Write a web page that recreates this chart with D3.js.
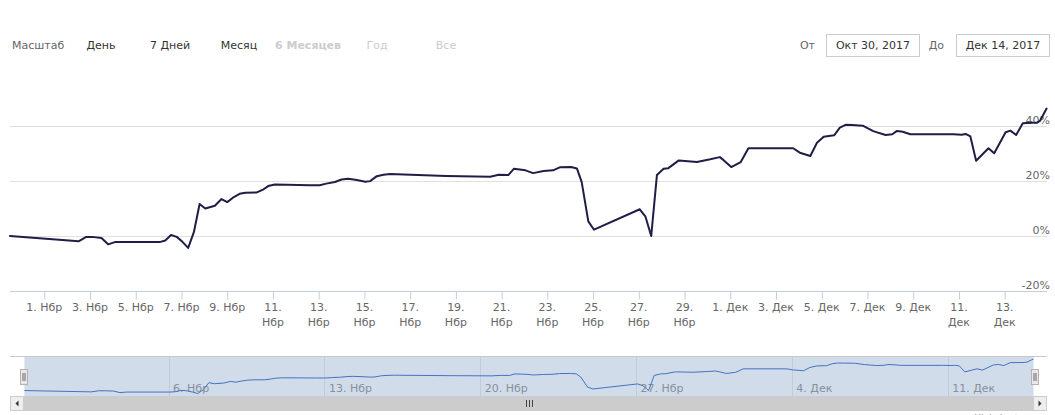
<!DOCTYPE html>
<html><head><meta charset="utf-8">
<script src="https://cdn.jsdelivr.net/npm/d3@7"></script>
<style>
body{margin:0;background:#fff;}
svg{display:block;font-family:"DejaVu Sans",Verdana,sans-serif;}
</style></head><body>
<svg id="c" width="1055" height="415"></svg>
<script>
// ---------- DATA ----------
const dates = [
"2017-10-30 12:00","2017-11-02 12:00","2017-11-02 20:00","2017-11-03 02:00","2017-11-03 12:00",
"2017-11-03 19:00","2017-11-04 02:00","2017-11-06 01:00","2017-11-06 07:00","2017-11-06 13:00",
"2017-11-06 19:00","2017-11-07 01:00","2017-11-07 07:00","2017-11-07 13:00","2017-11-07 19:00",
"2017-11-08 01:00","2017-11-08 11:00","2017-11-08 18:00","2017-11-09 00:00","2017-11-09 06:00",
"2017-11-09 13:00","2017-11-09 19:00","2017-11-10 07:00","2017-11-10 13:00","2017-11-10 19:00",
"2017-11-11 02:00","2017-11-12 15:00","2017-11-13 01:00","2017-11-13 08:00","2017-11-13 17:00",
"2017-11-14 00:00","2017-11-14 07:00","2017-11-14 16:00","2017-11-15 01:00","2017-11-15 06:00",
"2017-11-15 13:00","2017-11-15 20:00","2017-11-16 03:00","2017-11-16 10:00","2017-11-18 14:00",
"2017-11-20 12:00","2017-11-20 21:00","2017-11-21 07:00","2017-11-21 13:00","2017-11-22 01:00",
"2017-11-22 09:00","2017-11-22 20:00","2017-11-23 06:00","2017-11-23 13:00","2017-11-24 01:00",
"2017-11-24 07:00","2017-11-24 12:00","2017-11-24 19:00","2017-11-25 01:00","2017-11-27 01:00",
"2017-11-27 07:00","2017-11-27 13:00","2017-11-27 19:00","2017-11-28 02:00","2017-11-28 07:00",
"2017-11-28 18:00","2017-11-29 13:00","2017-11-30 03:00","2017-11-30 13:00","2017-11-30 17:00",
"2017-12-01 01:00","2017-12-01 11:00","2017-12-01 19:00","2017-12-03 18:00","2017-12-04 01:00",
"2017-12-04 12:00","2017-12-04 19:00","2017-12-05 02:00","2017-12-05 13:00","2017-12-05 19:00",
"2017-12-06 01:00","2017-12-06 08:00","2017-12-06 19:00","2017-12-07 06:00","2017-12-07 19:00",
"2017-12-08 02:00","2017-12-08 07:00","2017-12-08 13:00","2017-12-08 21:00","2017-12-10 18:00",
"2017-12-11 03:00","2017-12-11 07:00","2017-12-11 12:00","2017-12-11 18:00","2017-12-12 07:00",
"2017-12-12 13:00","2017-12-13 01:00","2017-12-13 06:00","2017-12-13 12:00","2017-12-13 19:00",
"2017-12-14 10:00","2017-12-14 13:00","2017-12-14 20:00"
];
const values = [
0.2,-1.7,-0.1,-0.1,-0.5,
-2.8,-2.0,-2.0,-1.4,0.6,
-0.1,-1.9,-4.1,1.6,11.8,
10.2,11.2,13.6,12.5,14.1,
15.5,15.9,16.0,16.9,18.3,
18.9,18.6,18.6,19.2,19.8,
20.7,21.0,20.5,19.9,20.1,
21.9,22.4,22.7,22.6,22.0,
21.7,22.4,22.3,24.6,24.0,
23.0,23.8,24.0,25.1,25.2,
24.7,19.8,5.5,2.5,9.9,
7.2,0.2,22.3,24.6,24.8,
27.6,27.0,28.0,28.8,27.7,
25.2,27.0,32.0,32.0,30.4,
29.2,34.0,36.2,36.7,39.5,
40.5,40.4,40.2,38.2,36.8,
37.1,38.3,38.0,37.1,37.1,
36.9,37.2,36.3,27.5,32.0,
30.2,37.8,38.4,36.8,41.1,
41.3,41.9,46.4
];
const yTicks = [-20, 0, 20, 40];
const monthNames = ["Янв","Фев","Мар","Апр","Май","Июн","Июл","Авг","Сен","Окт","Нбр","Дек"];
const zoomLabel = "Масштаб";
const rangeButtons = ["День","7 Дней","Месяц","6 Месяцев","Год","Все"];
const buttonStates = ["normal","normal","normal","selected","disabled","disabled"];
const fromLabel = "От", toLabel = "До";
const fromValue = "Окт 30, 2017", toValue = "Дек 14, 2017";
const credits = "Highcharts.com";

// ---------- SETUP ----------
const parse = d3.timeParse("%Y-%m-%d %H:%M");
const data = dates.map((d, i) => ({date: parse(d), value: values[i]}));
const svg = d3.select("#c");
const crisp = v => Math.floor(v) + 0.5;

const plot = {left: 10, right: 1046.6, bottom: 291.8, top: 126.2};
const x = d3.scaleTime().domain(d3.extent(data, d => d.date)).range([plot.left, plot.right]);
const y = d3.scaleLinear().domain([-20, 40]).range([plot.bottom, plot.top]);
const fmtTick = d => d3.timeFormat("%-d")(d) + ". " + monthNames[d.getMonth()];

// ---------- RANGE SELECTOR ----------
svg.append("text").attr("x", 12).attr("y", 49).attr("font-size", 11)
  .attr("fill", "#666").text(zoomLabel);
const btnColor = {normal: "#333", selected: "#cccccc", disabled: "#cccccc"};
svg.append("g").selectAll("text").data(rangeButtons).join("text")
  .attr("x", (d, i) => 101 + i * 69).attr("y", 49)
  .attr("text-anchor", "middle").attr("font-size", 11)
  .attr("font-weight", (d, i) => buttonStates[i] === "selected" ? "bold" : "normal")
  .attr("fill", (d, i) => btnColor[buttonStates[i]])
  .text(d => d);

// inputs
const inputs = [{label: fromLabel, value: fromValue, lx: 815, bx: 826},
                {label: toLabel, value: toValue, lx: 944, bx: 956}];
const ig = svg.append("g");
inputs.forEach(o => {
  ig.append("text").attr("x", o.lx).attr("y", 49).attr("text-anchor", "end")
    .attr("font-size", 11).attr("fill", "#666").text(o.label);
  ig.append("rect").attr("x", o.bx + 0.5).attr("y", 34.5).attr("width", 93).attr("height", 22)
    .attr("fill", "#fff").attr("stroke", "#cccccc");
  ig.append("text").attr("x", o.bx + 47).attr("y", 49).attr("text-anchor", "middle")
    .attr("font-size", 11).attr("fill", "#333").text(o.value);
});

// ---------- MAIN PLOT ----------
const grid = svg.append("g");
grid.selectAll("line").data(yTicks.filter(t => t !== -20)).join("line")
  .attr("x1", plot.left).attr("x2", 1047)
  .attr("y1", d => crisp(y(d))).attr("y2", d => crisp(y(d)))
  .attr("stroke", "#e0e0e0");

grid.selectAll("text").data(yTicks).join("text")
  .attr("x", 1050).attr("y", d => y(d) - 2.5)
  .attr("text-anchor", "end").attr("font-size", 11).attr("fill", "#666")
  .text(d => d + "%");

// x axis
const xTicks = d3.timeDay.every(2).range(new Date(2017, 10, 1), x.domain()[1]);
const slot = x(xTicks[1]) - x(xTicks[0]);
const xa = svg.append("g").attr("transform", `translate(0,${crisp(plot.bottom)})`)
  .call(d3.axisBottom(x).tickValues(xTicks).tickSize(8).tickSizeOuter(0).tickFormat(""));
xa.select(".domain").remove();
xa.selectAll(".tick line").attr("stroke", "#C0D0E0");
xa.selectAll(".tick text").remove();
xa.append("line").attr("x1", plot.left).attr("x2", 1047).attr("stroke", "#C0D0E0");

const lab = svg.append("g").attr("font-size", 11).attr("fill", "#666").attr("text-anchor", "middle");
xTicks.forEach(t => {
  const txt = lab.append("text").attr("x", x(t)).attr("y", 311).text(fmtTick(t));
  if (txt.node().getComputedTextLength() > slot * 0.85) {
    txt.text(null);
    const parts = fmtTick(t).split(" ");
    txt.append("tspan").attr("x", x(t)).attr("y", 311).text(parts[0]);
    txt.append("tspan").attr("x", x(t)).attr("y", 325.5).text(parts[1]);
  }
});

// line
svg.append("path").datum(data)
  .attr("fill", "none").attr("stroke", "#1e1e46").attr("stroke-width", 2)
  .attr("stroke-linejoin", "round").attr("stroke-linecap", "round")
  .attr("d", d3.line().x(d => x(d.date)).y(d => y(d.value)));

// ---------- NAVIGATOR ----------
const nav = {top: 356, bottom: 396};
const nx = d3.scaleTime().domain(x.domain()).range([24.4, 1033.5]);
const ny = d3.scaleLinear().domain(d3.extent(values)).range([393.5, 359]);

svg.append("rect").attr("x", nx.range()[0]).attr("y", nav.top)
  .attr("width", nx.range()[1] - nx.range()[0]).attr("height", nav.bottom - nav.top)
  .attr("fill", "rgba(69,114,167,0.25)");

const navTicks = d3.timeMonday.range(x.domain()[0], x.domain()[1]);
const ng = svg.append("g");
ng.selectAll("line").data(navTicks).join("line")
  .attr("x1", d => crisp(nx(d))).attr("x2", d => crisp(nx(d)))
  .attr("y1", nav.top).attr("y2", nav.bottom)
  .attr("stroke", "#c2cbdc");
ng.selectAll("text").data(navTicks).join("text")
  .attr("x", d => nx(d) + 4).attr("y", 392)
  .attr("font-size", 11).attr("fill", "#8a8f9a")
  .text(fmtTick);

svg.append("path").datum(data)
  .attr("fill", "none").attr("stroke", "#4572c4").attr("stroke-width", 1)
  .attr("d", d3.line().x(d => nx(d.date)).y(d => ny(d.value)));

// outline
svg.append("line").attr("x1", plot.left).attr("x2", 1047)
  .attr("y1", nav.top + 0.5).attr("y2", nav.top + 0.5).attr("stroke", "#c8c8c8");

// handles
[nx.range()[0], nx.range()[1] + 1.5].forEach(hx => {
  const h = svg.append("g").attr("transform", `translate(${Math.round(hx) - 4},369)`);
  h.append("rect").attr("x", 0.5).attr("y", 0.5).attr("width", 7).attr("height", 15)
    .attr("fill", "#ebe7e8").attr("stroke", "#b2b1b6");
  [3, 5].forEach(lx => h.append("line").attr("x1", lx - 0.5 + 0.5).attr("x2", lx - 0.5 + 0.5)
    .attr("y1", 4).attr("y2", 12).attr("stroke", "#666"));
});

// scrollbar
const sb = {y: 396, h: 15};
svg.append("rect").attr("x", plot.left).attr("y", sb.y).attr("width", 1037).attr("height", sb.h)
  .attr("fill", "#eeeeee");
svg.append("rect").attr("x", 24).attr("y", sb.y).attr("width", 1009).attr("height", sb.h)
  .attr("fill", "#cccccc");
[[plot.left, 0], [1033, 1]].forEach(([bx, dir]) => {
  svg.append("rect").attr("x", bx + 0.5).attr("y", sb.y + 0.5).attr("width", 13).attr("height", sb.h - 1)
    .attr("fill", "#eeeeee").attr("stroke", "#cccccc");
  const cx = bx + 7, cy = sb.y + 7.5;
  svg.append("path").attr("fill", "#333")
    .attr("d", dir === 0 ? `M${cx+1.5},${cy-3}L${cx-1.5},${cy}L${cx+1.5},${cy+3}Z`
                         : `M${cx-1.5},${cy-3}L${cx+1.5},${cy}L${cx-1.5},${cy+3}Z`);
});
const gx = Math.round((24 + 1033) / 2);
[-3, 0, 3].forEach(o => svg.append("line").attr("x1", gx + o + 0.5).attr("x2", gx + o + 0.5)
  .attr("y1", sb.y + 4).attr("y2", sb.y + 11).attr("stroke", "#444"));

// credits
svg.append("text").attr("x", 1045).attr("y", 421).attr("text-anchor", "end")
  .attr("font-size", 9).attr("fill", "#909090").text(credits);
</script>
</body></html>
